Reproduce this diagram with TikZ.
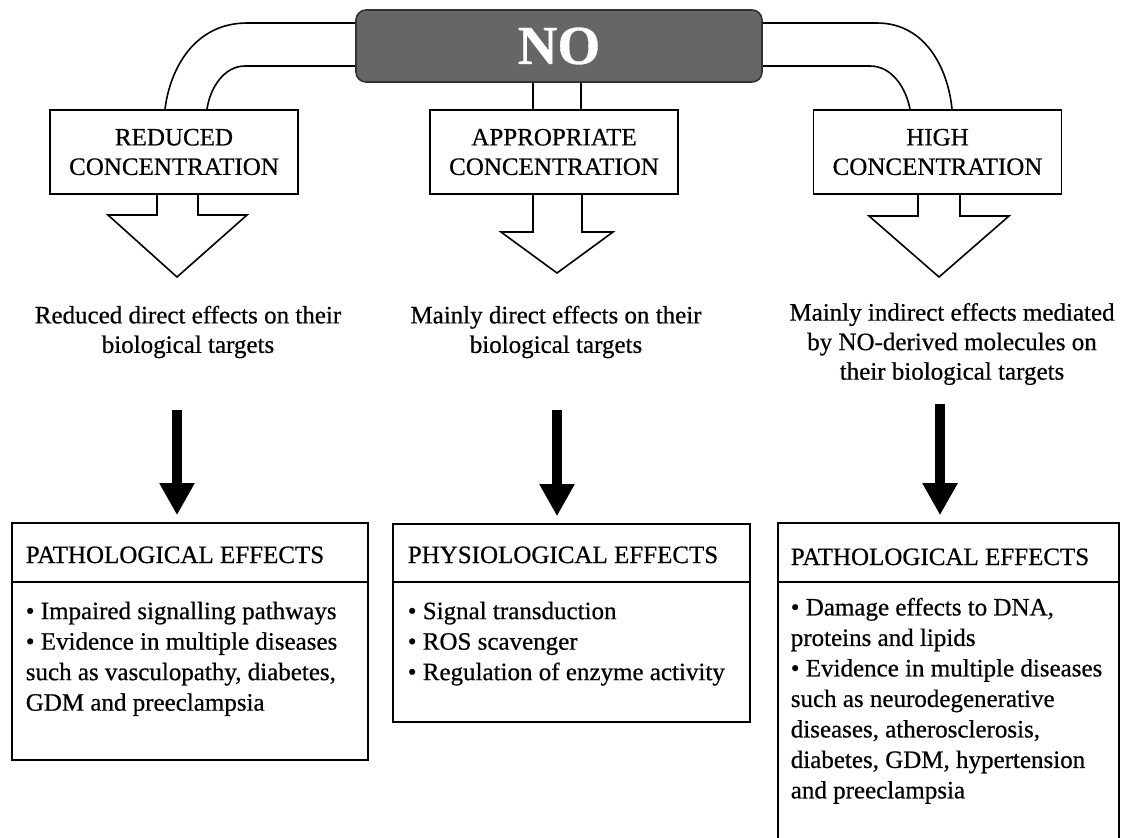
\documentclass[tikz,border=0pt]{standalone}
\usepackage{fontspec}
\setmainfont{Liberation Serif}[FakeBold=0.6]
\usetikzlibrary{calc,arrows.meta}

\begin{document}
\begin{tikzpicture}[x=0.5pt,y=-0.5pt,line width=0.8pt,
	every node/.style={font=\fontsize{12.5}{14.75}\selectfont},
	nobox/.style={draw=black!80,fill=black!60,rounded corners=5pt,minimum width=203pt,minimum height=36pt,text=white,font=\fontsize{27.5}{30}\selectfont\bfseries},
	concbox/.style={draw,minimum width=124pt,minimum height=42pt,align=center},
	effecttext/.style={align=center},
	hollow/.style={draw,line join=miter},
	bigarrow/.style={-{Triangle[width=16.5pt,length=16pt]},line width=5pt},
	effbox/.style={draw},
	head/.style={anchor=base west,inner sep=0pt},
	bullets/.style={anchor=north west,inner sep=0pt,align=left,font=\fontsize{12.5}{15.25}\selectfont}]
    \useasboundingbox (0,0) rectangle (1127,837);
    \node[nobox] (no) at (559,46) {NO};
    \node[concbox] (red) at (174,152) {REDUCED\\CONCENTRATION};
    \node[concbox] (app) at (554,152) {APPROPRIATE\\CONCENTRATION};
    \node[concbox] (high) at (937.5,152) {HIGH\\CONCENTRATION};
    % pipes from NO
    \draw (no.west |- 0,23) -- (247,23) .. controls (195,23) and (170,68) .. (red.north -| 165,0);
    \draw (no.west |- 0,66) -- (245,66) .. controls (224,66) and (210,88) .. (red.north -| 207,0);
    \draw (no.south -| 533,0) -- (app.north -| 533,0);
    \draw (no.south -| 581,0) -- (app.north -| 581,0);
    \draw (no.east |- 0,23) -- (877,23) .. controls (925,23) and (948,68) .. (high.north -| 952,0);
    \draw (no.east |- 0,66) -- (870,66) .. controls (892,66) and (906,88) .. (high.north -| 910,0);
    % hollow arrows
    \draw[hollow] (red.south -| 157,0) |- (108,215) -- (177,277) -- (247,215) -| (red.south -| 198,0);
    \draw[hollow] (app.south -| 533,0) |- (501,232) -- (557,273) -- (613,232) -| (app.south -| 582,0);
    \draw[hollow] (high.south -| 918,0) |- (869,216) -- (939,277) -- (1009,216) -| (high.south -| 960,0);
    \node[effecttext] (redfx) at (188,332) {Reduced direct effects on their\\biological targets};
    \node[effecttext] (appfx) at (556,332) {Mainly direct effects on their\\biological targets};
    \node[effecttext] (highfx) at (952,344) {Mainly indirect effects mediated\\by NO-derived molecules on\\their biological targets};
    % effect boxes
    \node[effbox,minimum width=178pt,minimum height=118.5pt] (redbox) at (190,641.5) {};
    \node[effbox,minimum width=178.5pt,minimum height=99pt] (appbox) at (571.5,623) {};
    \begin{scope}
    \clip (0,0) rectangle (1127,837);
    \node[effbox,minimum width=170.5pt,minimum height=173.5pt] (highbox) at (948.5,696.5) {};
    \end{scope}
    \draw (redbox.west |- 0,582) -- (redbox.east |- 0,582);
    \draw (appbox.west |- 0,582) -- (appbox.east |- 0,582);
    \draw (highbox.west |- 0,582) -- (highbox.east |- 0,582);
    \node[head] (redhead) at (25,563) {PATHOLOGICAL EFFECTS};
    \node[head] (apphead) at (407,563) {PHYSIOLOGICAL EFFECTS};
    \node[head] (highhead) at (790,565) {PATHOLOGICAL EFFECTS};
    \node[bullets] (redlist) at (25,601) {\textbullet{} Impaired signalling pathways\\\textbullet{} Evidence in multiple diseases\\such as vasculopathy, diabetes,\\GDM and preeclampsia};
    \node[bullets] (applist) at (407,601) {\textbullet{} Signal transduction\\\textbullet{} ROS scavenger\\\textbullet{} Regulation of enzyme activity};
    \node[bullets] (highlist) at (790,597) {\textbullet{} Damage effects to DNA,\\proteins and lipids\\\textbullet{} Evidence in multiple diseases\\such as neurodegenerative\\diseases, atherosclerosis,\\diabetes, GDM, hypertension\\and preeclampsia};
    % solid arrows
    \draw[bigarrow,shorten <=22pt,shorten >=3.5pt] (redfx.south -| 177,0) -- (redbox.north -| 177,0);
    \draw[bigarrow,shorten <=22pt,shorten >=3.5pt] (appfx.south -| 557,0) -- (appbox.north -| 557,0);
    \draw[bigarrow,shorten <=6pt,shorten >=3.5pt] (highfx.south -| 940,0) -- (highbox.north -| 940,0);
\end{tikzpicture}
\end{document}
